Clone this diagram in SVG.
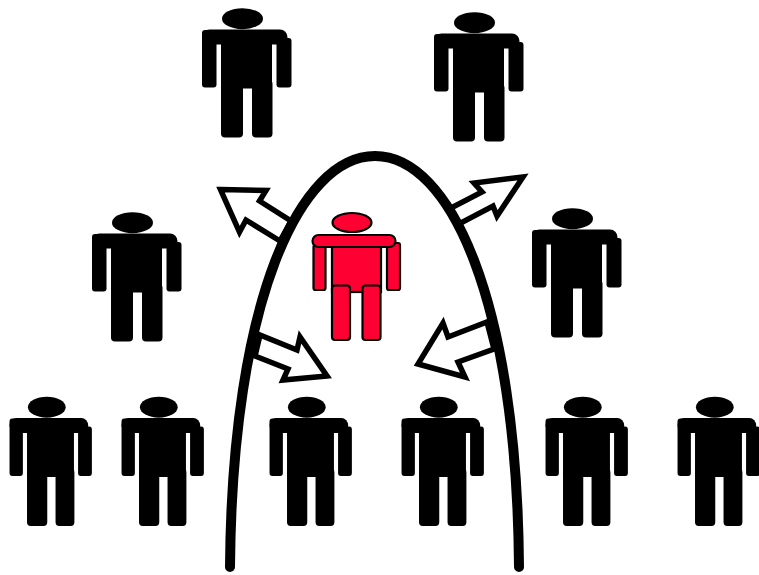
<svg xmlns="http://www.w3.org/2000/svg" xmlns:xlink="http://www.w3.org/1999/xlink" width="759" height="575" viewBox="0 0 759 575">
<style>
.arrow{fill:#fff;stroke:#000;stroke-width:5.5;stroke-linejoin:miter;stroke-miterlimit:10}
.arch{fill:none;stroke:#000;stroke-width:10;stroke-linecap:round}
.red{fill:#ff0033;stroke:#000;stroke-width:2.2}
</style>
<defs>
<g id="person" fill="#000">
<ellipse cx="242.5" cy="18.7" rx="20.5" ry="10.5"/>
<rect x="276.500" y="38" width="15" height="49.5" rx="3"/>
<rect x="202" y="30" width="14.500" height="57.5" rx="3"/>
<rect x="202" y="29.5" width="85.500" height="15" rx="7.5"/>
<rect x="221" y="35" width="51" height="53.500"/>
<rect x="221" y="80" width="22" height="57.500" rx="4"/>
<rect x="252" y="80" width="20.500" height="57.500" rx="4"/>
</g>
</defs>
<g id="crowd">
<g id="person-top-left"><use xlink:href="#person" href="#person"/></g>
<g id="person-top-right"><use xlink:href="#person" href="#person" transform="translate(232,4)"/></g>
<g id="person-mid-left"><use xlink:href="#person" href="#person" transform="translate(-110,204)"/></g>
<g id="person-mid-right"><use xlink:href="#person" href="#person" transform="translate(330,200)"/></g>
<g id="person-bottom-1"><use xlink:href="#person" href="#person" transform="translate(46.800,388.500) scale(.92,1) translate(-242.500,0)"/></g>
<g id="person-bottom-2"><use xlink:href="#person" href="#person" transform="translate(158.800,388.500) scale(.92,1) translate(-242.500,0)"/></g>
<g id="person-bottom-3"><use xlink:href="#person" href="#person" transform="translate(306.800,388.500) scale(.92,1) translate(-242.500,0)"/></g>
<g id="person-bottom-4"><use xlink:href="#person" href="#person" transform="translate(438.800,388.500) scale(.92,1) translate(-242.500,0)"/></g>
<g id="person-bottom-5"><use xlink:href="#person" href="#person" transform="translate(582.800,388.500) scale(.92,1) translate(-242.500,0)"/></g>
<g id="person-bottom-6"><use xlink:href="#person" href="#person" transform="translate(714.800,388.500) scale(.92,1) translate(-242.500,0)"/></g>
</g>
<g id="person-red" class="red">
<ellipse cx="352" cy="222.500" rx="19.500" ry="9.500"/>
<rect x="387" y="243" width="13" height="47" rx="2"/>
<rect x="313.500" y="245" width="12" height="45" rx="2"/>
<rect x="332" y="245" width="49" height="47"/>
<rect x="312.500" y="235" width="83" height="12" rx="6"/>
<rect x="332" y="285.500" width="18" height="54.500" rx="3"/>
<rect x="362.500" y="285.500" width="18" height="54.500" rx="3"/>
</g>
<g id="connectors">
<polygon class="arrow" points="220.500,189.500 266,190.500 259.500,201 291,221 280,241 246,220 239.500,232"/>
<polygon class="arrow" points="523,177 474,183 482,192 449,209 459,224 493,206 497,216"/>
<polygon class="arrow" points="327,376 283,380 288,369 255,356 260,335 297,350 300,337"/>
<polygon class="arrow" points="418,364 465,377 458,362 494,349 487,322 448,337 443,323"/>
<path id="arch" class="arch" d="M230 567C232 300 300 156 375 156C450 156 517 300 519 567"/>
</g>
</svg>
